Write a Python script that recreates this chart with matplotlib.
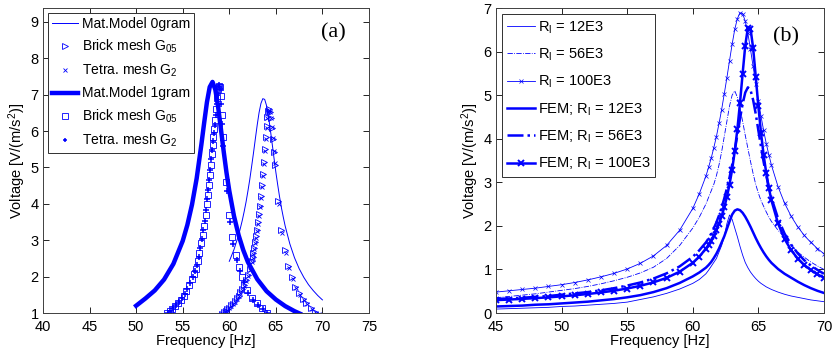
import matplotlib
matplotlib.use('Agg')
import matplotlib.pyplot as plt

plt.rcParams['font.family'] = ['Liberation Sans', 'DejaVu Sans']
plt.rcParams['mathtext.fontset'] = 'custom'
plt.rcParams['mathtext.rm'] = 'Liberation Sans'
plt.rcParams['mathtext.it'] = 'Liberation Sans:italic'

BLUE = '#0000ff'

# ---------------- Panel (a) data ----------------
A_M0_F = [60, 60.5, 61, 61.2, 61.4, 61.6, 61.8, 62, 62.2, 62.4, 62.6, 62.8, 63, 63.2, 63.4, 63.6, 63.8, 64,
          64.2, 64.4, 64.6, 64.8, 65, 65.2, 65.4, 65.6, 65.8, 66, 66.5, 67, 67.5, 68, 68.5, 69, 69.5, 70]
A_M0_V = [2.42, 2.74, 3.14, 3.34, 3.55, 3.79, 4.05, 4.35, 4.67, 5.03, 5.40, 5.79, 6.17, 6.51, 6.76, 6.89, 6.87,
          6.70, 6.42, 6.05, 5.66, 5.26, 4.87, 4.52, 4.19, 3.89, 3.63, 3.39, 2.90, 2.52, 2.22, 1.98, 1.78, 1.62,
          1.48, 1.36]

A_M1_F = [50, 51, 52, 53, 54, 55, 55.5, 56, 56.5, 57, 57.3, 57.6, 57.9, 58.2, 58.5, 58.8, 59.1, 59.4, 59.7, 60,
          60.5, 61, 61.5, 62, 63, 64, 65, 66, 67, 67.6]
A_M1_V = [1.2, 1.4, 1.62, 1.92, 2.35, 2.98, 3.42, 3.98, 4.70, 5.62, 6.22, 6.79, 7.21, 7.35, 7.14, 6.67, 6.06,
          5.44, 4.86, 4.36, 3.67, 3.14, 2.73, 2.40, 1.93, 1.60, 1.37, 1.19, 1.05, 0.98]

A_B0_F = [59.2, 59.4, 59.6, 59.8, 60.0, 60.2, 60.4, 60.6, 60.8, 61.0, 61.2, 61.4, 61.6, 61.8, 62.0, 62.2, 62.4,
          62.5, 62.6, 62.7, 62.8, 62.9, 63.0, 63.1, 63.2, 63.3, 63.4, 63.5, 63.6, 63.7, 63.8, 63.9, 64.0, 64.1,
          64.2, 64.3, 64.4, 64.5, 64.6, 64.7, 64.8, 64.9,
          65.2, 65.6, 66.0, 66.35, 66.75, 67.1, 67.5, 67.9, 68.25, 68.75, 69.2, 69.5]
A_B0_V = [0.98, 1.02, 1.06, 1.11, 1.15, 1.21, 1.26, 1.33, 1.40, 1.48, 1.57, 1.66, 1.78, 1.90, 2.05, 2.22, 2.43,
          2.54, 2.66, 2.80, 2.95, 3.11, 3.29, 3.49, 3.71, 3.95, 4.22, 4.51, 4.82, 5.15, 5.50, 5.83, 6.14, 6.39,
          6.55, 6.60, 6.53, 6.35, 6.09, 5.77, 5.42, 5.08,
          4.08, 3.28, 2.73, 2.30, 1.98, 1.72, 1.54, 1.38, 1.27, 1.13, 1.02, 0.98]

A_T0_F = [59.2, 59.4, 59.6, 59.8, 60.0, 60.2, 60.4, 60.6, 60.8, 61.0, 61.2, 61.4, 61.6, 61.8, 62.0, 62.2, 62.4,
          62.5, 62.6, 62.7, 62.8, 62.9, 63.0, 63.1, 63.2, 63.3, 63.4, 63.5, 63.6, 63.7, 63.8, 63.9, 64.0, 64.1,
          64.2, 64.3, 64.4, 64.5, 64.6, 64.7, 64.8, 64.9,
          65.3, 65.7, 66.1, 66.45, 66.85, 67.2, 67.6, 68.0, 68.35, 68.85, 69.3, 69.6]
A_T0_V = [0.97, 1.01, 1.05, 1.09, 1.14, 1.19, 1.25, 1.31, 1.38, 1.46, 1.55, 1.64, 1.75, 1.88, 2.02, 2.19, 2.39,
          2.50, 2.62, 2.76, 2.91, 3.07, 3.25, 3.45, 3.67, 3.91, 4.17, 4.46, 4.77, 5.10, 5.44, 5.78, 6.09, 6.35,
          6.52, 6.58, 6.52, 6.36, 6.11, 5.80, 5.46, 5.12,
          4.00, 3.20, 2.66, 2.24, 1.93, 1.68, 1.50, 1.35, 1.24, 1.11, 1.00, 0.96]

A_B1_F = [53.3, 53.6, 53.9, 54.2, 54.5, 54.8, 55.1, 55.4, 55.7, 56.0, 56.2, 56.4, 56.6, 56.8, 57.0, 57.15, 57.3,
          57.45, 57.6, 57.7, 57.8, 57.9, 58.0, 58.1, 58.2, 58.3, 58.4, 58.5, 58.6, 58.7, 58.8, 58.9, 59.0, 59.1,
          59.2, 59.3, 59.7, 60.0, 60.3, 60.7, 61.05, 61.4, 61.85, 62.4, 62.95, 63.5, 64.0]
A_B1_V = [1.00, 1.06, 1.12, 1.20, 1.28, 1.37, 1.48, 1.60, 1.76, 1.93, 2.07, 2.22, 2.42, 2.65, 2.92, 3.15, 3.40,
          3.68, 4.00, 4.25, 4.52, 4.80, 5.08, 5.36, 5.62, 5.85, 6.05, 6.30, 6.60, 6.90, 7.15, 7.25, 7.22, 6.95,
          6.45, 5.85, 4.61, 3.69, 3.08, 2.59, 2.27, 2.00, 1.63, 1.40, 1.27, 1.13, 1.00]

A_T1_F = [53.4, 53.7, 54.0, 54.3, 54.6, 54.9, 55.2, 55.5, 55.8, 56.1, 56.3, 56.5, 56.7, 56.9, 57.05, 57.2, 57.35,
          57.5, 57.65, 57.75, 57.85, 57.95, 58.05, 58.15, 58.25, 58.35, 58.45, 58.55, 58.65, 58.75, 58.85, 58.95,
          59.05, 59.15, 59.25, 59.35, 59.8, 60.1, 60.45, 60.85, 61.2, 61.6, 62.05, 62.6, 63.1, 63.6, 64.05]
A_T1_V = [1.00, 1.06, 1.13, 1.21, 1.30, 1.40, 1.51, 1.65, 1.82, 2.00, 2.15, 2.32, 2.53, 2.78, 3.02, 3.27, 3.53,
          3.83, 4.13, 4.38, 4.66, 4.94, 5.22, 5.49, 5.74, 5.95, 6.18, 6.45, 6.75, 7.03, 7.20, 7.27, 7.15, 6.75,
          6.20, 5.60, 4.35, 3.50, 2.90, 2.45, 2.15, 1.85, 1.55, 1.35, 1.22, 1.10, 0.99]

A_LABELS = ['Mat.Model 0gram', 'Brick mesh G$_{05}$', 'Tetra. mesh G$_{2}$',
            'Mat.Model 1gram', 'Brick mesh G$_{05}$', 'Tetra. mesh G$_{2}$']
A_XTICKS = [40, 45, 50, 55, 60, 65, 70, 75]
A_YTICKS = [1, 2, 3, 4, 5, 6, 7, 8, 9]

# ---------------- Panel (b) data ----------------
B_F = [45, 46, 47, 48, 49, 50, 51, 52, 53, 54, 55, 56, 57, 58, 59, 60, 60.5, 61,
       61.2, 61.4, 61.6, 61.8, 62, 62.2, 62.4, 62.6, 62.8, 63, 63.2, 63.4, 63.6, 63.8, 64, 64.2, 64.4, 64.6,
       64.8, 65, 65.2, 65.4, 65.6, 65.8, 66, 66.5, 67, 67.5, 68, 68.5, 69, 69.5, 70]
B_R12 = [0.09, 0.10, 0.11, 0.12, 0.13, 0.15, 0.16, 0.18, 0.20, 0.22, 0.25, 0.31, 0.37, 0.45, 0.55, 0.68, 0.77,
         0.90, 0.98, 1.07, 1.16, 1.25, 1.40, 1.55, 1.75, 2.05, 2.25, 2.15, 1.95, 1.75, 1.53, 1.33, 1.16, 1.04,
         0.94, 0.86, 0.79, 0.73, 0.68, 0.64, 0.60, 0.57, 0.54, 0.48, 0.43, 0.39, 0.36, 0.33, 0.30, 0.28, 0.26]
B_R56 = [0.35, 0.38, 0.41, 0.44, 0.48, 0.52, 0.56, 0.61, 0.67, 0.74, 0.82, 0.92, 1.05, 1.25, 1.55, 1.95, 2.20,
         2.50, 2.65, 2.80, 2.95, 3.15, 3.40, 3.70, 4.05, 4.40, 4.75, 5.00, 5.10, 4.95, 4.70, 4.40, 4.08, 3.78,
         3.48, 3.20, 2.95, 2.75, 2.58, 2.45, 2.32, 2.20, 2.10, 1.90, 1.73, 1.55, 1.40, 1.28, 1.17, 1.08, 1.00]
B_R100 = [0.48, 0.51, 0.54, 0.57, 0.61, 0.65, 0.70, 0.76, 0.83, 0.91, 1.01, 1.14, 1.31, 1.55, 1.90, 2.40, 2.74,
          3.14, 3.34, 3.55, 3.79, 4.05, 4.35, 4.67, 5.03, 5.40, 5.79, 6.17, 6.51, 6.76, 6.89, 6.87, 6.70, 6.42,
          6.05, 5.66, 5.26, 4.87, 4.52, 4.19, 3.89, 3.63, 3.39, 2.90, 2.52, 2.22, 1.98, 1.78, 1.62, 1.48, 1.36]
B_FEM12 = [0.15, 0.16, 0.17, 0.19, 0.20, 0.22, 0.24, 0.26, 0.29, 0.32, 0.36, 0.41, 0.48, 0.57, 0.69, 0.84, 0.93,
           1.04, 1.10, 1.17, 1.26, 1.36, 1.48, 1.62, 1.76, 1.93, 2.10, 2.26, 2.35, 2.38, 2.36, 2.30, 2.21, 2.10,
           1.98, 1.85, 1.72, 1.60, 1.49, 1.39, 1.30, 1.22, 1.15, 1.01, 0.90, 0.81, 0.72, 0.64, 0.57, 0.51, 0.46]
B_FEM56 = [0.32, 0.335, 0.35, 0.37, 0.39, 0.42, 0.45, 0.48, 0.52, 0.57, 0.63, 0.70, 0.79, 0.91, 1.07, 1.29, 1.44,
           1.62, 1.71, 1.82, 1.94, 2.08, 2.24, 2.42, 2.63, 2.86, 3.11, 3.40, 3.73, 4.09, 4.46, 4.80, 5.06, 5.18,
           5.12, 4.89, 4.57, 4.19, 3.82, 3.47, 3.16, 2.88, 2.64, 2.17, 1.82, 1.57, 1.37, 1.21, 1.09, 0.99, 0.90]
B_FEM100 = [0.296, 0.309, 0.324, 0.341, 0.36, 0.382, 0.407, 0.436, 0.471, 0.512, 0.562, 0.624, 0.703, 0.806, 0.948,
            1.153, 1.295, 1.477, 1.565, 1.664, 1.776, 1.904, 2.052, 2.224, 2.426, 2.663, 2.949, 3.293, 3.714, 4.22,
            4.824, 5.495, 6.139, 6.548, 6.53, 6.086, 5.424, 4.744, 4.138, 3.63, 3.212, 2.868, 2.583, 2.056, 1.698,
            1.442, 1.251, 1.102, 0.985, 0.889, 0.81]

B_LABELS = ['R$_\\mathrm{l}$ = 12E3', 'R$_\\mathrm{l}$ = 56E3', 'R$_\\mathrm{l}$ = 100E3',
            'FEM; R$_\\mathrm{l}$ = 12E3', 'FEM; R$_\\mathrm{l}$ = 56E3', 'FEM; R$_\\mathrm{l}$ = 100E3']
B_XTICKS = [45, 50, 55, 60, 65, 70]
B_YTICKS = [0, 1, 2, 3, 4, 5, 6, 7]

# ---------------- Figure ----------------
fig = plt.figure(figsize=(8.36, 3.5), dpi=100)
ax1 = fig.add_axes([0.0514, 0.1057, 0.390, 0.8713])
ax2 = fig.add_axes([0.5933, 0.1057, 0.3923, 0.8713])

FS = 10.5


def style(ax):
    ax.tick_params(direction='in', top=True, right=True, length=4, width=0.6,
                   labelsize=FS, colors='black')
    ax.tick_params(axis='x', pad=5)
    ax.tick_params(axis='y', pad=3)
    for s in ax.spines.values():
        s.set_linewidth(0.7)
        s.set_color('#404040')


# Panel (a)
ax1.plot(A_M0_F, A_M0_V, '-', color=BLUE, lw=0.7, label=A_LABELS[0])
ax1.plot(A_B0_F, A_B0_V, '>', color=BLUE, ms=5, mfc='none', mew=0.6, ls='none', label=A_LABELS[1])
ax1.plot(A_T0_F, A_T0_V, 'x', color=BLUE, ms=3, mew=0.6, ls='none', label=A_LABELS[2])
ax1.plot(A_M1_F, A_M1_V, '-', color=BLUE, lw=3.2, label=A_LABELS[3])
ax1.plot(A_B1_F, A_B1_V, 's', color=BLUE, ms=5, mfc='none', mew=0.6, ls='none', label=A_LABELS[4])
ax1.plot(A_T1_F, A_T1_V, '+', color=BLUE, ms=4, mew=1.1, ls='none', label=A_LABELS[5])
ax1.set_xlim(40, 75)
ax1.set_ylim(1, 9.38)
ax1.set_xticks(A_XTICKS)
ax1.set_yticks(A_YTICKS)
style(ax1)
ax1.set_xlabel('Frequency [Hz]', fontsize=FS, labelpad=0)
ax1.set_ylabel('Voltage [V/(m/s$^2$)]', fontsize=FS, labelpad=2)
ax1.text(0.89, 0.92, '(a)', transform=ax1.transAxes, fontsize=16,
         family='Liberation Serif', ha='center', va='center')
leg1 = ax1.legend(loc='upper left', bbox_to_anchor=(0.015, 0.985), borderaxespad=0,
                  fontsize=10, frameon=True, fancybox=False, framealpha=1, edgecolor='#303030',
                  handlelength=1.9, handletextpad=0.25, borderpad=0.3, labelspacing=0.5, markerscale=0.8)
leg1.get_frame().set_linewidth(0.7)

# Panel (b)
ax2.plot(B_F, B_R12, '-', color=BLUE, lw=0.6, label=B_LABELS[0])
ax2.plot(B_F, B_R56, '-.', color=BLUE, lw=0.6, label=B_LABELS[1])
ax2.plot(B_F, B_R100, '-', color=BLUE, lw=0.6, marker='x', ms=3, mew=0.5, label=B_LABELS[2])
ax2.plot(B_F, B_FEM12, '-', color=BLUE, lw=1.8, label=B_LABELS[3])
ax2.plot(B_F, B_FEM56, '-.', color=BLUE, lw=1.8, label=B_LABELS[4])
ax2.plot(B_F, B_FEM100, '-', color=BLUE, lw=1.8, marker='x', ms=4, mew=1.4, label=B_LABELS[5])
ax2.set_xlim(45, 70)
ax2.set_ylim(0, 7)
ax2.set_xticks(B_XTICKS)
ax2.set_yticks(B_YTICKS)
style(ax2)
ax2.set_xlabel('Frequency [Hz]', fontsize=FS, labelpad=0)
ax2.set_ylabel('Voltage [V/(m/s$^2$)]', fontsize=FS, labelpad=2)
ax2.text(0.885, 0.905, '(b)', transform=ax2.transAxes, fontsize=16,
         family='Liberation Serif', ha='center', va='center')
leg2 = ax2.legend(loc='upper left', bbox_to_anchor=(0.018, 0.98), borderaxespad=0,
                  fontsize=FS, frameon=True, fancybox=False, framealpha=1, edgecolor='#303030',
                  handlelength=1.9, handletextpad=0.2, borderpad=0.35, labelspacing=0.75)
leg2.get_frame().set_linewidth(0.7)

fig.savefig('out.png', dpi=100)
